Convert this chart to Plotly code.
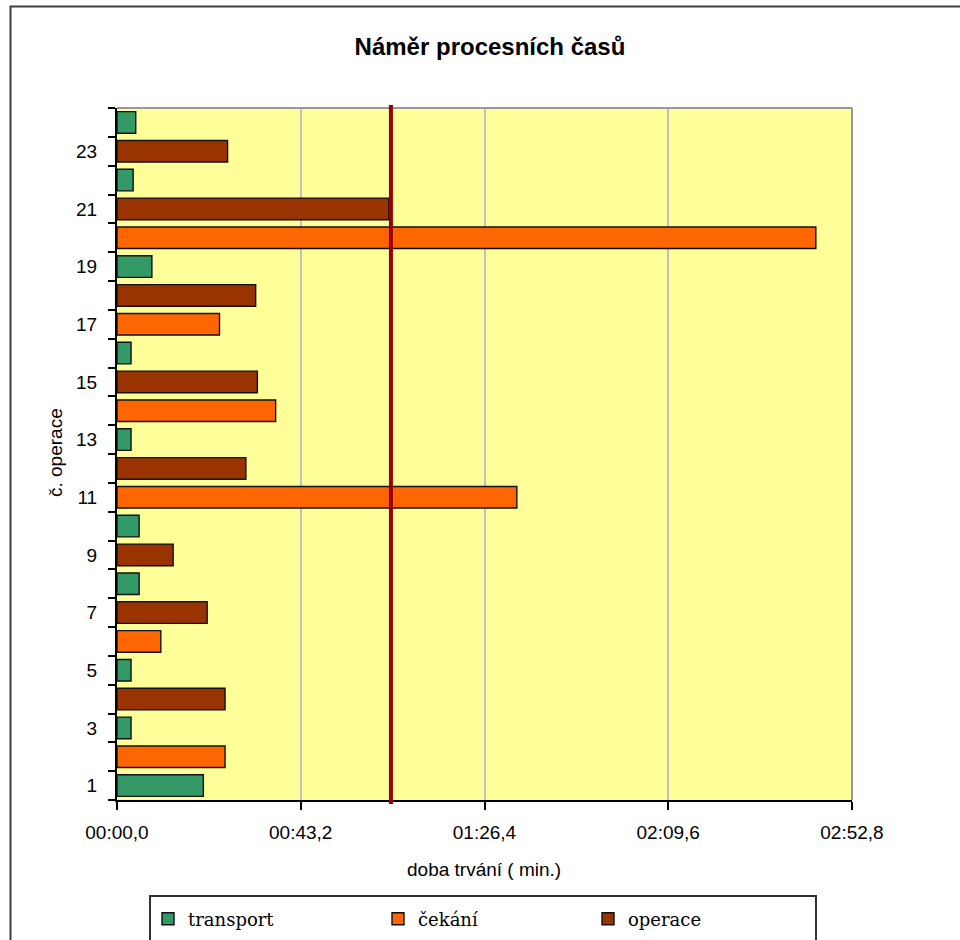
import plotly.graph_objects as go

# ---- data (seconds) ----
transport_ops = [1, 3, 5, 8, 10, 13, 16, 19, 22, 24]
transport_vals = [20.3, 3.3, 3.3, 5.2, 5.2, 3.3, 3.3, 8.2, 3.8, 4.4]
cekani_ops = [2, 6, 11, 14, 17, 20]
cekani_vals = [25.4, 10.3, 94.0, 37.3, 24.1, 164.3]
operace_ops = [4, 7, 9, 12, 15, 18, 21, 23]
operace_vals = [25.4, 21.2, 13.2, 30.3, 33.0, 32.6, 63.9, 26.0]
reference_line = 64.4
x_tickvals = [0, 43.2, 86.4, 129.6, 172.8]
x_ticktext = ["00:00,0", "00:43,2", "01:26,4", "02:09,6", "02:52,8"]
y_tickvals = list(range(1, 24, 2))
y_ticktext = [str(v) for v in y_tickvals]
n_slots = 24

W, H = 960, 940
L, R, T, B = 117, 108, 108, 140
PW, PH = W - L - R, H - T - B


def px(x):
    return (x - L) / PW


def py(y):
    return (H - B - y) / PH


fig = go.Figure()
series = [
    ("transport", transport_ops, transport_vals, "#339966", "legend2"),
    ("čekání", cekani_ops, cekani_vals, "#FF6600", "legend3"),
    ("operace", operace_ops, operace_vals, "#993300", "legend4"),
]
for name, ops, vals, col, lg in series:
    fig.add_trace(go.Bar(
        x=vals, y=ops, orientation="h", name=name, width=0.75,
        marker=dict(color=col, line=dict(color="#111111", width=1.4)),
        legend=lg, hoverinfo="x+y+name",
    ))

fig.update_layout(
    width=W, height=H,
    margin=dict(l=L, r=R, t=T, b=B, autoexpand=False),
    paper_bgcolor="white",
    plot_bgcolor="#FFFF99",
    barmode="overlay",
    font=dict(family="Liberation Sans, Arial, sans-serif", size=19, color="black"),
    title=dict(text="<b>Náměr procesních časů</b>", x=490 / W, xanchor="center",
               y=1 - 47 / H, yanchor="middle", xref="container", yref="container",
               font=dict(size=24, family="Liberation Sans, Arial, sans-serif")),
    xaxis=dict(range=[0, 172.8], tickvals=x_tickvals, ticktext=x_ticktext,
               showgrid=True, gridcolor="#C0C0C0", gridwidth=1.5,
               showline=True, linecolor="black", linewidth=2,
               ticks="outside", ticklen=8, tickwidth=1.5, tickcolor="black",
               ticklabelstandoff=6,
               zeroline=False, fixedrange=True),
    yaxis=dict(range=[0.5, n_slots + 0.5], tickvals=y_tickvals, ticktext=y_ticktext,
               showgrid=False, zeroline=False,
               showline=True, linecolor="black", linewidth=2,
               ticks="", ticklabelstandoff=14,
               minor=dict(tickvals=[i + 0.5 for i in range(n_slots + 1)],
                          ticks="outside", ticklen=7, tickwidth=1.5, tickcolor="black"),
               fixedrange=True),
)

leg_common = dict(orientation="h", yanchor="middle", y=py(919), xanchor="left",
                  bgcolor="rgba(0,0,0,0)", borderwidth=0,
                  font=dict(family="DejaVu Serif, serif", size=18, color="black"))
fig.update_layout(
    legend2=dict(x=px(148), **leg_common),
    legend3=dict(x=px(378), **leg_common),
    legend4=dict(x=px(588), **leg_common),
)

shapes = [
    # outer chart frame
    dict(type="rect", xref="paper", yref="paper", x0=px(10.5), x1=px(990),
         y0=py(6.5), y1=py(990), line=dict(color="#404040", width=2), layer="above"),
    # legend box
    dict(type="rect", xref="paper", yref="paper", x0=px(150), x1=px(816),
         y0=py(896), y1=py(990), line=dict(color="#333333", width=2), layer="above"),
    # top and right plot border
    dict(type="line", xref="paper", yref="paper", x0=0, x1=1, y0=1, y1=1,
         line=dict(color="#999999", width=2), layer="above"),
    dict(type="line", xref="paper", yref="paper", x0=1, x1=1, y0=0, y1=1,
         line=dict(color="#999999", width=2), layer="above"),
    # reference line
    dict(type="line", xref="x", yref="paper", x0=reference_line, x1=reference_line,
         y0=py(804), y1=py(105), line=dict(color="#990000", width=4), layer="above"),
]
fig.update_layout(shapes=shapes)

fig.add_annotation(text="doba trvání ( min.)", xref="paper", yref="paper",
                   x=px(484), y=py(869), xanchor="center", yanchor="middle",
                   showarrow=False, font=dict(size=19))
fig.add_annotation(text="č. operace", xref="paper", yref="paper",
                   x=px(55), y=py(453), xanchor="center", yanchor="middle",
                   textangle=-90, showarrow=False, font=dict(size=19))

fig.write_html("out.html", config={"displayModeBar": False},
               post_script="document.body.style.margin='0px';")
